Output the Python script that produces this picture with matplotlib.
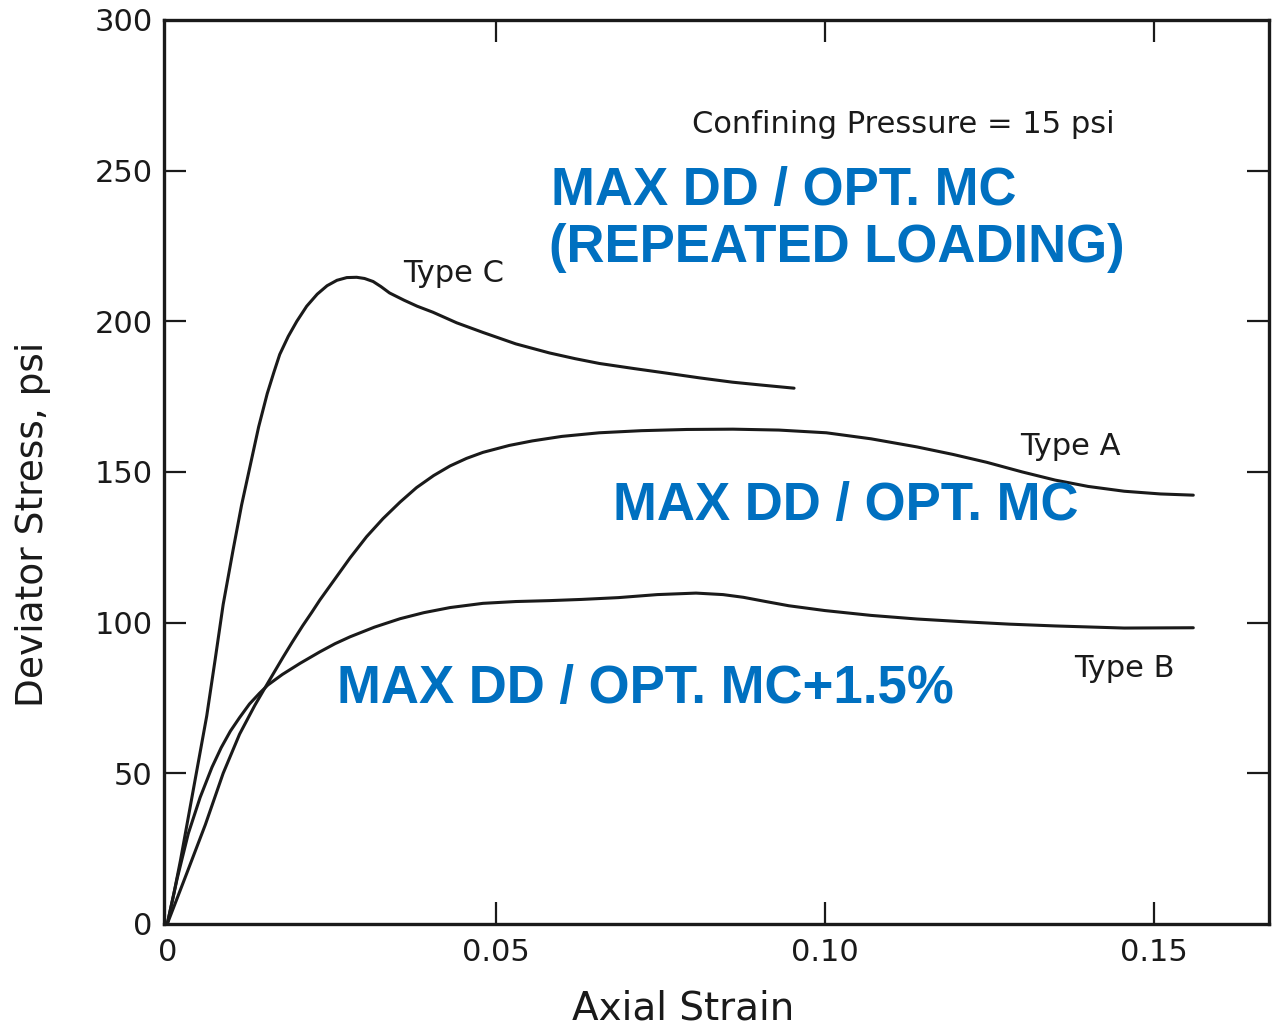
import matplotlib
matplotlib.use('Agg')
import matplotlib.pyplot as plt

## Stress-strain curves, confining pressure 15 psi
strain_c = [0, 0.0010, 0.0020, 0.0030, 0.0040, 0.0050, 0.0060, 0.0073, 0.0085, 0.0100,
            0.0113, 0.0126, 0.0139, 0.0152, 0.0162, 0.0171, 0.0184, 0.0197, 0.0212, 0.0228,
            0.0243, 0.0258, 0.0273, 0.0288, 0.0300, 0.0313, 0.0325, 0.0338, 0.0360, 0.0380,
            0.0404, 0.0440, 0.0480, 0.0530, 0.0581, 0.0620, 0.0657, 0.0710, 0.0759, 0.0810,
            0.0859, 0.0905, 0.0953]
stress_c = [0, 10, 21, 33, 45, 57, 69, 88, 106, 124,
            139, 152, 165, 176, 183, 189, 195, 200, 205, 209,
            211.8, 213.6, 214.5, 214.6, 214.2, 213.2, 211.5, 209.4, 207, 205,
            203, 199.5, 196.3, 192.5, 189.5, 187.6, 186, 184.3, 182.8, 181.2,
            179.8, 178.8, 177.8]

strain_a = [0, 0.0030, 0.0058, 0.0085, 0.0110, 0.0133, 0.0153, 0.0176, 0.0190, 0.0206,
            0.0220, 0.0232, 0.0255, 0.0278, 0.0303, 0.0328, 0.0354, 0.0379, 0.0405, 0.0430,
            0.0455, 0.0480, 0.0520, 0.0555, 0.0600, 0.0657, 0.0721, 0.0790, 0.0860, 0.0930,
            0.1002, 0.1070, 0.1140, 0.1195, 0.1246, 0.1300, 0.1350, 0.1400, 0.1455, 0.1510,
            0.1560]
stress_a = [0, 17, 33, 50, 63, 72.5, 80, 88.5, 93.5, 99,
            103.5, 107.5, 114.5, 121.5, 128.5, 134.5, 140, 144.8, 148.8, 152,
            154.5, 156.5, 158.8, 160.3, 161.8, 163, 163.7, 164.1, 164.2, 163.9,
            163, 161, 158.3, 155.8, 153.2, 150, 147.3, 145.2, 143.6, 142.7,
            142.3]

strain_b = [0, 0.0015, 0.0032, 0.0050, 0.0068, 0.0082, 0.0096, 0.0110, 0.0125, 0.0140,
            0.0153, 0.0175, 0.0202, 0.0232, 0.0255, 0.0278, 0.0315, 0.0354, 0.0390, 0.0430,
            0.0480, 0.0530, 0.0581, 0.0630, 0.0686, 0.0745, 0.0804, 0.0845, 0.0876, 0.0910,
            0.0945, 0.1000, 0.1070, 0.1140, 0.1210, 0.1280, 0.1350, 0.1455, 0.1560]
stress_b = [0, 15, 30, 42, 52, 58.5, 64, 68.5, 73, 76.5,
            79.3, 82.8, 86.5, 90.3, 93, 95.3, 98.5, 101.3, 103.3, 105,
            106.4, 107, 107.3, 107.7, 108.3, 109.3, 109.8, 109.3, 108.4, 107,
            105.6, 104, 102.4, 101.2, 100.3, 99.5, 98.9, 98.2, 98.3]

x_ticks = [0, 0.05, 0.10, 0.15]
x_ticklabels = ['0', '0.05', '0.10', '0.15']
y_ticks = [0, 50, 100, 150, 200, 250, 300]

blue = '#0070C0'
ink = '#1a1a1a'

fig = plt.figure(figsize=(12.73, 10.28), dpi=100)
ax = fig.add_axes([0.1288, 0.1012, 0.868, 0.8794])

for xs, ys in [(strain_c, stress_c), (strain_a, stress_a), (strain_b, stress_b)]:
    ax.plot(xs, ys, color=ink, lw=2.2, solid_capstyle='round', solid_joinstyle='round')

ax.set_xlim(-0.0005, 0.1675)
ax.set_ylim(0, 300)
ax.set_xticks(x_ticks)
ax.set_xticklabels(x_ticklabels)
ax.set_yticks(y_ticks)
for s in ax.spines.values():
    s.set_linewidth(2.4)
    s.set_color(ink)
ax.tick_params(direction='in', top=True, right=True, length=16, width=1.6,
               labelsize=22, color=ink, labelcolor=ink)
ax.tick_params(axis='x', pad=10)
ax.tick_params(axis='y', pad=8)

# no tick marks where they would sit on the frame corners
yt = ax.yaxis.get_major_ticks()
for t in (yt[0], yt[-1]):
    t.tick1line.set_visible(False)
    t.tick2line.set_visible(False)
xt = ax.xaxis.get_major_ticks()
xt[0].tick1line.set_visible(False)
xt[0].tick2line.set_visible(False)

# axis titles
fig.text(683 / 1273, 1 - 1008 / 1028, 'Axial Strain', fontsize=28,
         ha='center', va='center', color=ink)
fig.text(33 / 1273, 1 - 524 / 1028, 'Deviator Stress, psi', fontsize=27,
         rotation=90, ha='center', va='center', color=ink)

# curve labels
ax.text(0.0798, 262.5, 'Confining Pressure = 15 psi', fontsize=22, color=ink)
ax.text(0.0359, 213, 'Type C', fontsize=22, color=ink)
ax.text(0.1297, 155.7, 'Type A', fontsize=22, color=ink)
ax.text(0.1379, 82, 'Type B', fontsize=22, color=ink)

# compaction condition notes
bold = dict(family='Liberation Sans', fontweight='bold', fontsize=38, color=blue)
ax.text(0.0584, 238.6, 'MAX DD / OPT. MC', **bold)
ax.text(0.0580, 219.7, '(REPEATED LOADING)', **bold)
ax.text(0.0677, 134, 'MAX DD / OPT. MC', **bold)
ax.text(0.0258, 73.3, 'MAX DD / OPT. MC+1.5%', **bold)

plt.savefig('out.png', dpi=100)
